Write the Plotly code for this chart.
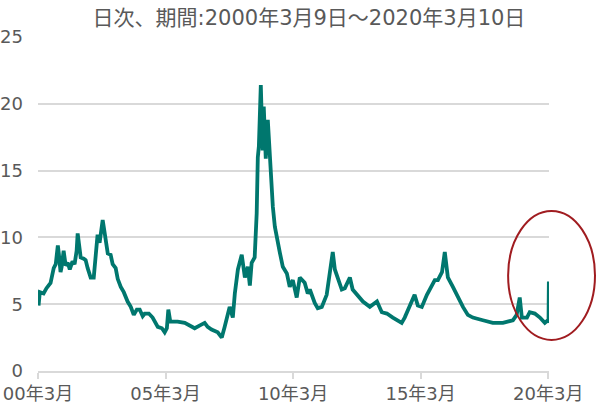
import plotly.graph_objects as go

dates = [
    "2000-03-09", "2000-03-27", "2000-05-20", "2000-07-01", "2000-08-28", "2000-10-12",
    "2000-11-10", "2000-12-10", "2000-12-24", "2001-01-18", "2001-02-03", "2001-03-03",
    "2001-04-01", "2001-05-01", "2001-05-30", "2001-07-08", "2001-08-07", "2001-09-05",
    "2001-09-20", "2001-10-19", "2001-11-02", "2001-12-16", "2002-01-12", "2002-02-10",
    "2002-03-25", "2002-05-08", "2002-06-05", "2002-07-02", "2002-07-31", "2002-09-13",
    "2002-09-28", "2002-10-28", "2002-11-25", "2003-01-05", "2003-02-03", "2003-03-18",
    "2003-04-16", "2003-05-30", "2003-07-12", "2003-09-05", "2003-10-20", "2003-12-02",
    "2004-01-15", "2004-02-25", "2004-04-08", "2004-05-08", "2004-07-05", "2004-08-28",
    "2004-10-12", "2004-11-10", "2005-01-08", "2005-02-17", "2005-03-20", "2005-04-10",
    "2005-05-08", "2005-06-10", "2005-08-20", "2005-12-01", "2006-02-10", "2006-04-22",
    "2006-06-30", "2006-09-12", "2006-10-25", "2006-12-20", "2007-03-18", "2007-05-15",
    "2007-06-25", "2007-08-10", "2007-09-05", "2007-10-20", "2007-11-18", "2008-01-01",
    "2008-02-25", "2008-04-10", "2008-05-22", "2008-06-20", "2008-07-16", "2008-08-28",
    "2008-09-26", "2008-10-12", "2008-10-27", "2008-11-24", "2008-12-05", "2008-12-20",
    "2009-01-05", "2009-02-03", "2009-03-04", "2009-04-01", "2009-04-30", "2009-05-15",
    "2009-06-13", "2009-07-09", "2009-08-22", "2009-10-05", "2009-12-02", "2010-01-12",
    "2010-02-25", "2010-04-22", "2010-06-05", "2010-08-14", "2010-09-27", "2010-10-27",
    "2011-01-05", "2011-02-17", "2011-04-16", "2011-06-25", "2011-08-08", "2011-09-20",
    "2011-10-20", "2011-12-03", "2012-01-27", "2012-03-11", "2012-05-22", "2012-07-01",
    "2012-09-12", "2012-11-25", "2013-03-04", "2013-06-14", "2013-08-22", "2013-11-03",
    "2014-01-27", "2014-06-03", "2014-07-16", "2014-09-27", "2014-12-05", "2015-01-20",
    "2015-03-18", "2015-05-30", "2015-08-08", "2015-09-20", "2015-11-03", "2016-01-01",
    "2016-02-10", "2016-03-25", "2016-06-05", "2016-08-14", "2016-10-27", "2017-01-05",
    "2017-03-18", "2017-08-08", "2017-12-28", "2018-05-22", "2018-07-15", "2018-10-12",
    "2018-12-05", "2019-01-18", "2019-02-17", "2019-05-01", "2019-06-10", "2019-08-22",
    "2019-11-03", "2020-01-12", "2020-02-25", "2020-03-05", "2020-03-10",
]

values = [
    4.9, 5.9, 5.8, 6.2, 6.6, 7.7,
    8.0, 9.4, 8.8, 7.4, 7.8, 9.0,
    7.9, 8.1, 7.6, 8.2, 8.0, 9.0,
    10.3, 9.2, 8.5, 8.4, 8.3, 7.7,
    7.0, 7.0, 8.5, 10.2, 9.6, 11.3,
    10.8, 9.7, 8.8, 8.7, 8.0, 7.7,
    6.9, 6.3, 5.9, 5.2, 4.8, 4.2,
    4.6, 4.6, 4.1, 4.3, 4.3, 4.0,
    3.6, 3.3, 3.2, 2.9, 3.2, 4.6,
    3.7, 3.7, 3.7, 3.6, 3.4, 3.2,
    3.4, 3.6, 3.3, 3.1, 2.9, 2.5,
    3.3, 4.3, 4.8, 4.0, 5.8, 7.6,
    8.7, 7.0, 7.8, 6.4, 8.1, 8.5,
    11.8, 16.0, 16.8, 21.4, 18.0, 16.5,
    19.8, 15.9, 18.8, 16.0, 14.3, 12.3,
    10.8, 10.0, 8.9, 7.8, 7.3, 6.3,
    6.8, 5.5, 7.0, 6.6, 5.8, 6.1,
    5.1, 4.7, 4.8, 5.7, 7.3, 8.9,
    7.6, 7.0, 6.1, 6.2, 7.0, 6.1,
    5.7, 5.2, 4.8, 5.2, 4.4, 4.3,
    4.0, 3.6, 4.0, 4.8, 5.7, 4.9,
    4.8, 5.7, 6.3, 6.8, 6.8, 7.4,
    8.9, 7.0, 6.3, 5.5, 4.8, 4.2,
    4.0, 3.8, 3.6, 3.6, 3.7, 3.8,
    4.2, 5.5, 4.0, 4.0, 4.4, 4.3,
    4.0, 3.6, 3.8, 3.6, 6.7,
]

tick_dates = ["2000-03-01", "2005-03-01", "2010-03-01", "2015-03-01", "2020-03-01"]
tick_labels = ["00年3月", "05年3月", "10年3月", "15年3月", "20年3月"]
y_ticks = [0, 5, 10, 15, 20, 25]

title_text = "日次、期間:2000年3月9日～2020年3月10日"

FONT = "DejaVu Sans, Noto Sans CJK JP, sans-serif"
GRAY = "#595959"
GRID = "#d9d9d9"

fig = go.Figure()
fig.add_trace(go.Scatter(
    x=dates, y=values, mode="lines",
    line=dict(color="#00776e", width=3.8),
    hoverinfo="skip", showlegend=False,
))

fig.update_layout(
    width=600, height=410,
    margin=dict(l=38, r=51, t=37, b=39),
    paper_bgcolor="white", plot_bgcolor="white",
    font=dict(family=FONT, color=GRAY, size=18),
    title=dict(text=title_text, x=0.515, xanchor="center", y=0.957, yanchor="middle",
               font=dict(family=FONT, size=21, color=GRAY)),
    xaxis=dict(
        type="date", range=["2000-03-01", "2020-03-12"],
        tickvals=tick_dates, ticktext=tick_labels,
        showgrid=False, showline=True, linecolor=GRID, linewidth=1.5,
        ticks="outside", ticklen=6, tickcolor=GRID, tickwidth=1.5,
        tickfont=dict(family=FONT, size=18, color=GRAY),
        zeroline=False, automargin=False,
    ),
    yaxis=dict(
        range=[0, 25], tickvals=y_ticks,
        showgrid=True, gridcolor=GRID, gridwidth=1.5,
        zeroline=False, showline=False, ticks="",
        ticklabelstandoff=14, automargin=False,
        tickfont=dict(family=FONT, size=18, color=GRAY),
    ),
    shapes=[dict(
        type="circle", xref="paper", yref="paper",
        x0=0.920, x1=1.090, y0=0.093, y1=0.479,
        line=dict(color="#a01c20", width=2), fillcolor="rgba(0,0,0,0)",
        layer="above",
    )],
)

fig.write_html(
    "out.html",
    config={"displayModeBar": False},
    post_script="document.body.style.margin='0';document.body.style.overflow='hidden';",
)
